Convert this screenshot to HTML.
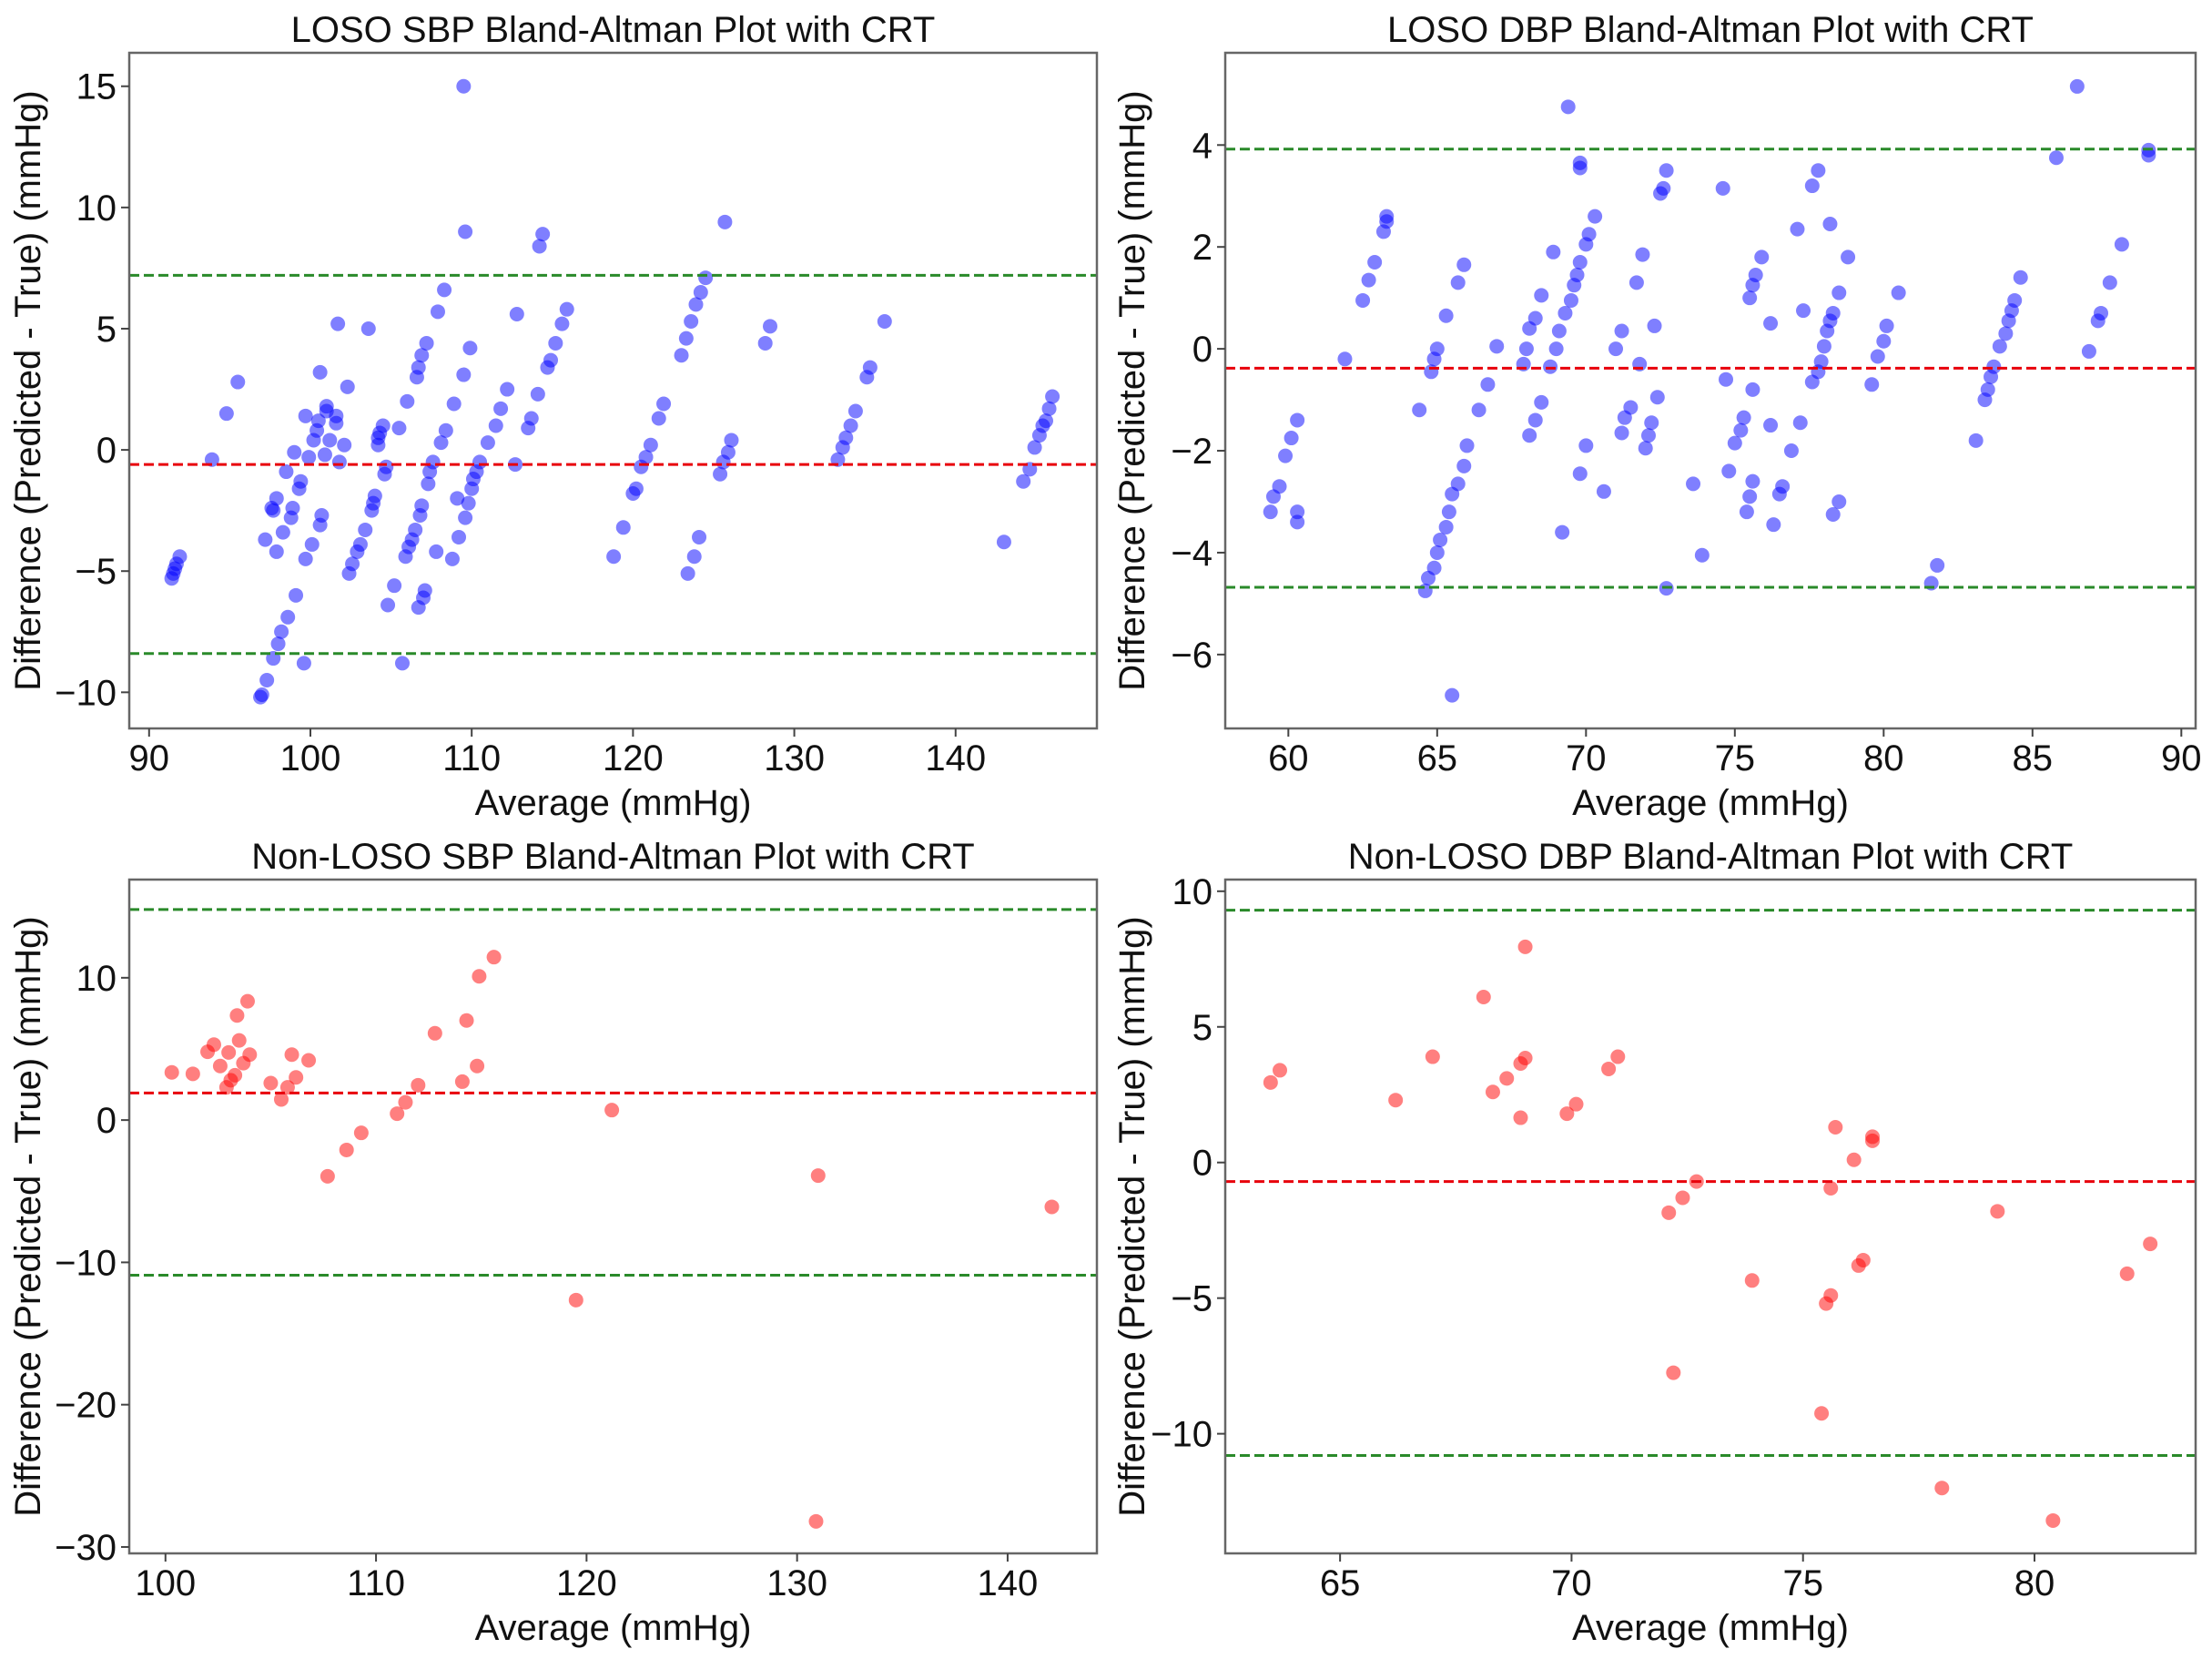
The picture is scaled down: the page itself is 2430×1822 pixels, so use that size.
<!DOCTYPE html>
<html><head><meta charset="utf-8"><title>Bland-Altman Plots</title>
<style>
html,body{margin:0;padding:0;background:#fff;}
svg{display:block;font-family:"Liberation Sans",Arial,sans-serif;}
</style></head>
<body>
<svg id="fig" width="2430" height="1822" viewBox="0 0 2430 1822" xmlns="http://www.w3.org/2000/svg"></svg>
<script>
// ---- Panel 1: LOSO SBP ----
const p1X = [91.4,91.5,91.6,91.7,91.9,93.9,94.8,95.5,97.2,96.9,97.0,97.3,97.7,98.0,98.2,98.6,99.1,99.6,97.7,97.9,97.6,97.9,98.3,98.5,98.8,98.9,99.0,99.3,99.4,99.7,99.7,100.1,99.9,100.2,100.4,100.5,100.6,100.6,100.7,100.9,101.0,101.0,101.2,101.7,101.6,101.6,101.8,102.1,102.3,102.4,102.6,102.9,103.1,103.4,103.6,103.8,103.9,104.0,104.2,104.2,104.3,104.5,104.6,104.7,104.8,105.2,105.5,105.7,105.9,106.0,106.1,106.3,106.5,106.6,106.7,106.8,106.9,106.9,106.7,107.0,107.1,107.2,107.3,107.4,107.6,107.8,107.9,108.1,108.3,108.4,108.9,108.8,109.1,109.2,109.5,109.6,109.5,109.6,109.8,109.9,110.0,110.1,110.3,110.5,111.0,111.5,111.8,112.2,112.7,112.8,113.5,113.7,114.1,114.2,114.4,114.7,114.9,115.2,115.6,115.9,118.8,119.4,120.0,120.2,120.5,120.8,121.1,121.6,121.9,123.0,123.3,123.4,123.6,123.8,123.9,124.1,124.2,124.5,125.4,125.6,125.7,125.9,126.1,128.2,128.5,132.7,133.0,133.2,133.5,133.8,134.5,134.7,135.6,143.0,144.2,144.6,144.9,145.2,145.4,145.6,145.8,146.0];
const p1Y = [-5.3,-5.1,-4.9,-4.7,-4.4,-0.4,1.5,2.8,-3.7,-10.2,-10.1,-9.5,-8.6,-8.0,-7.5,-6.9,-6.0,-8.8,-2.5,-2.0,-2.4,-4.2,-3.4,-0.9,-2.8,-2.4,-0.1,-1.6,-1.3,-4.5,1.4,-3.9,-0.3,0.4,0.8,1.2,3.2,-3.1,-2.7,-0.2,1.6,1.8,0.4,5.2,1.1,1.4,-0.5,0.2,2.6,-5.1,-4.7,-4.2,-3.9,-3.3,5.0,-2.5,-2.2,-1.9,0.2,0.5,0.7,1.0,-1.0,-0.7,-6.4,-5.6,0.9,-8.8,-4.4,2.0,-4.0,-3.7,-3.3,3.0,3.4,-2.7,-2.3,3.9,-6.5,-6.1,-5.8,4.4,-1.4,-0.9,-0.5,-4.2,5.7,0.3,6.6,0.8,1.9,-4.5,-2.0,-3.6,15.0,9.0,3.1,-2.8,-2.2,4.2,-1.6,-1.2,-0.9,-0.5,0.3,1.0,1.7,2.5,-0.6,5.6,0.9,1.3,2.3,8.4,8.9,3.4,3.7,4.4,5.2,5.8,-4.4,-3.2,-1.8,-1.6,-0.7,-0.3,0.2,1.3,1.9,3.9,4.6,-5.1,5.3,-4.4,6.0,-3.6,6.5,7.1,-1.0,-0.5,9.4,-0.1,0.4,4.4,5.1,-0.4,0.1,0.5,1.0,1.6,3.0,3.4,5.3,-3.8,-1.3,-0.8,0.1,0.6,1.0,1.2,1.7,2.2];
const p1Lines = [7.2, -0.6, -8.4];
const p1XTicks = [90,100,110,120,130,140];
const p1YTicks = [-10,-5,0,5,10,15];

// ---- Panel 2: LOSO DBP ----
const p2X = [59.4,59.5,59.7,59.9,60.1,60.3,60.3,60.3,61.9,62.5,62.7,62.9,63.2,63.3,63.3,64.4,64.6,64.7,64.9,65.0,65.1,65.3,65.4,65.5,65.5,65.7,65.9,66.0,64.8,64.9,65.0,65.3,65.7,65.9,66.4,66.7,67.0,67.9,68.0,68.1,68.3,68.1,68.3,68.5,68.5,68.8,68.9,69.0,69.1,69.2,69.3,69.4,69.5,69.6,69.7,69.8,69.8,69.8,69.8,70.0,70.1,70.0,70.3,70.6,71.0,71.2,71.2,71.3,71.5,71.7,71.8,71.9,72.0,72.1,72.2,72.3,72.4,72.5,72.6,72.7,72.7,73.6,73.9,74.6,74.7,74.8,75.0,75.2,75.3,75.4,75.5,75.6,75.5,75.6,75.7,75.6,75.9,76.2,76.2,76.3,76.5,76.6,76.9,77.1,77.2,77.3,77.6,77.6,77.8,77.8,77.9,78.0,78.1,78.2,78.2,78.3,78.3,78.5,78.5,78.8,79.6,79.8,80.0,80.1,80.5,81.6,81.8,83.1,83.4,83.5,83.6,83.7,83.9,84.1,84.2,84.3,84.4,84.6,85.8,86.5,86.9,87.2,87.3,87.6,88.0,88.9,88.9];
const p2Y = [-3.2,-2.9,-2.7,-2.1,-1.75,-1.4,-3.4,-3.2,-0.2,0.95,1.35,1.7,2.3,2.5,2.6,-1.2,-4.75,-4.5,-4.3,-4.0,-3.75,-3.5,-3.2,-6.8,-2.85,-2.65,-2.3,-1.9,-0.45,-0.2,0.0,0.65,1.3,1.65,-1.2,-0.7,0.05,-0.3,0.0,0.4,0.6,-1.7,-1.4,-1.05,1.05,-0.35,1.9,0.0,0.35,-3.6,0.7,4.75,0.95,1.25,1.45,1.7,3.55,3.65,-2.45,2.05,2.25,-1.9,2.6,-2.8,0.0,0.35,-1.65,-1.35,-1.15,1.3,-0.3,1.85,-1.95,-1.7,-1.45,0.45,-0.95,3.05,3.15,-4.7,3.5,-2.65,-4.05,3.15,-0.6,-2.4,-1.85,-1.6,-1.35,-3.2,-2.9,-2.6,1.0,1.25,1.45,-0.8,1.8,0.5,-1.5,-3.45,-2.85,-2.7,-2.0,2.35,-1.45,0.75,-0.65,3.2,3.5,-0.45,-0.25,0.05,0.35,0.55,2.45,0.7,-3.25,-3.0,1.1,1.8,-0.7,-0.15,0.15,0.45,1.1,-4.6,-4.25,-1.8,-1.0,-0.8,-0.55,-0.35,0.05,0.3,0.55,0.75,0.95,1.4,3.75,5.15,-0.05,0.55,0.7,1.3,2.05,3.8,3.9];
const p2Lines = [3.92, -0.38, -4.68];
const p2XTicks = [60,65,70,75,80,85,90];
const p2YTicks = [-6,-4,-2,0,2,4];

// ---- Panel 3: Non-LOSO SBP ----
const p3X = [100.3,101.3,102.0,102.3,102.6,102.9,103.0,103.1,103.3,103.4,103.5,103.7,103.9,104.0,105.0,105.5,105.8,106.0,106.2,106.8,107.7,108.6,109.3,111.0,111.4,112.0,112.8,114.1,114.3,114.8,114.9,115.6,119.5,121.2,130.9,131.0,142.1];
const p3Y = [3.35,3.25,4.8,5.3,3.8,2.3,4.75,2.8,3.15,7.35,5.6,4.0,8.35,4.6,2.6,1.45,2.3,4.6,3.0,4.2,-3.95,-2.1,-0.9,0.45,1.25,2.45,6.1,2.7,7.0,3.8,10.1,11.45,-12.65,0.7,-28.2,-3.9,-6.1];
const p3Lines = [14.8, 1.9, -10.9];
const p3XTicks = [100,110,120,130,140];
const p3YTicks = [-30,-20,-10,0,10];

// ---- Panel 4: Non-LOSO DBP ----
const p4X = [63.5,63.7,66.2,67.0,68.1,68.3,68.6,68.9,68.9,69.0,69.0,69.9,70.1,70.8,71.0,72.1,72.4,72.7,72.2,73.9,75.4,75.5,75.6,75.6,75.7,76.1,76.2,76.3,76.5,76.5,78.0,79.2,80.4,82.0,82.5];
const p4Y = [2.95,3.4,2.3,3.9,6.1,2.6,3.1,1.65,3.65,3.85,7.95,1.8,2.15,3.45,3.9,-1.85,-1.3,-0.7,-7.75,-4.35,-9.25,-5.2,-4.9,-0.95,1.3,0.1,-3.8,-3.6,0.8,0.95,-12.0,-1.8,-13.2,-4.1,-3.0];
const p4Lines = [9.3, -0.7, -10.8];
const p4XTicks = [65,70,75,80];
const p4YTicks = [-10,-5,0,5,10];

const NS = "http://www.w3.org/2000/svg";
const svg = document.getElementById('fig');
function mk(tag, attrs, parent){
  const e = document.createElementNS(NS, tag);
  for (const k in attrs) e.setAttribute(k, attrs[k]);
  parent.appendChild(e);
  return e;
}

function panel(cfg){
  const g = mk('g', {}, svg);
  
  
  const L=cfg.box[0], T=cfg.box[1], R=cfg.box[2], B=cfg.box[3];
  const sx = v => L + (v - cfg.xlim[0]) / (cfg.xlim[1] - cfg.xlim[0]) * (R - L);
  const sy = v => B - (v - cfg.ylim[0]) / (cfg.ylim[1] - cfg.ylim[0]) * (B - T);

  const pg = mk('g', {}, g);
  
  
  for (let i = 0; i < cfg.xs.length; i++){
    const c = mk('circle', {cx: sx(cfg.xs[i]), cy: sy(cfg.ys[i]), r: 8, fill: cfg.color, 'fill-opacity': 0.5}, pg);
    
    
  }
  const lineNames = ['upper-limit-line','mean-difference-line','lower-limit-line'];
  const lineColors = ['#2a8a2a','#e8000b','#2a8a2a'];
  for (let i = 0; i < 3; i++){
    const y = sy(cfg.lines[i]);
    const ln = mk('line', {x1: L, x2: R, y1: y, y2: y, stroke: lineColors[i], 'stroke-width': 3, 'stroke-dasharray': '11 5'}, g);
    
    
  }
  const fr = mk('rect', {x: L, y: T, width: R - L, height: B - T, fill: 'none', stroke: '#666', 'stroke-width': 2.5}, g);
  
  
  cfg.xt.forEach(v => {
    const x = sx(v);
    const tk = mk('line', {x1: x, x2: x, y1: B, y2: B + 9, stroke: '#444', 'stroke-width': 2}, g);
    
    
    const t = mk('text', {x: x, y: B + 46, 'font-size': 40, 'text-anchor': 'middle', fill: '#111'}, g);
    t.textContent = v;
    
    
  });
  cfg.yt.forEach(v => {
    const y = sy(v);
    const tk = mk('line', {x1: L - 9, x2: L, y1: y, y2: y, stroke: '#444', 'stroke-width': 2}, g);
    
    
    const t = mk('text', {x: L - 14, y: y + 14, 'font-size': 40, 'text-anchor': 'end', fill: '#111'}, g);
    t.textContent = v < 0 ? '\u2212' + Math.abs(v) : String(v);
    
    
  });
  const tt = mk('text', {x: (L + R) / 2, y: T - 12, 'font-size': 40, 'text-anchor': 'middle', fill: '#111'}, g);
  tt.textContent = cfg.title;
  
  
  const xl = mk('text', {x: (L + R) / 2, y: B + 95, 'font-size': 40, 'text-anchor': 'middle', fill: '#111'}, g);
  xl.textContent = 'Average (mmHg)';
  
  
  const cy = (T + B) / 2, cx = cfg.ylabX;
  const yl = mk('text', {x: cx, y: cy, 'font-size': 40, 'text-anchor': 'middle', fill: '#111', transform: 'rotate(-90 ' + cx + ' ' + cy + ')'}, g);
  yl.textContent = 'Difference (Predicted - True) (mmHg)';
  
  
}

panel({name:'loso-sbp-panel', title:'LOSO SBP Bland-Altman Plot with CRT', box:[142,58,1205,800], xlim:[88.77,148.76], ylim:[-11.49,16.38], xs:p1X, ys:p1Y, lines:p1Lines, xt:p1XTicks, yt:p1YTicks, color:'#0000ff', ylabX:44});
panel({name:'loso-dbp-panel', title:'LOSO DBP Bland-Altman Plot with CRT', box:[1346,58,2412,800], xlim:[57.88,90.48], ylim:[-7.45,5.81], xs:p2X, ys:p2Y, lines:p2Lines, xt:p2XTicks, yt:p2YTicks, color:'#0000ff', ylabX:1257});
panel({name:'non-loso-sbp-panel', title:'Non-LOSO SBP Bland-Altman Plot with CRT', box:[142,966,1205,1706], xlim:[98.28,144.24], ylim:[-30.45,16.9], xs:p3X, ys:p3Y, lines:p3Lines, xt:p3XTicks, yt:p3YTicks, color:'#ff0000', ylabX:44});
panel({name:'non-loso-dbp-panel', title:'Non-LOSO DBP Bland-Altman Plot with CRT', box:[1346,966,2412,1706], xlim:[62.52,83.48], ylim:[-14.41,10.43], xs:p4X, ys:p4Y, lines:p4Lines, xt:p4XTicks, yt:p4YTicks, color:'#ff0000', ylabX:1257});
</script>
</body></html>
